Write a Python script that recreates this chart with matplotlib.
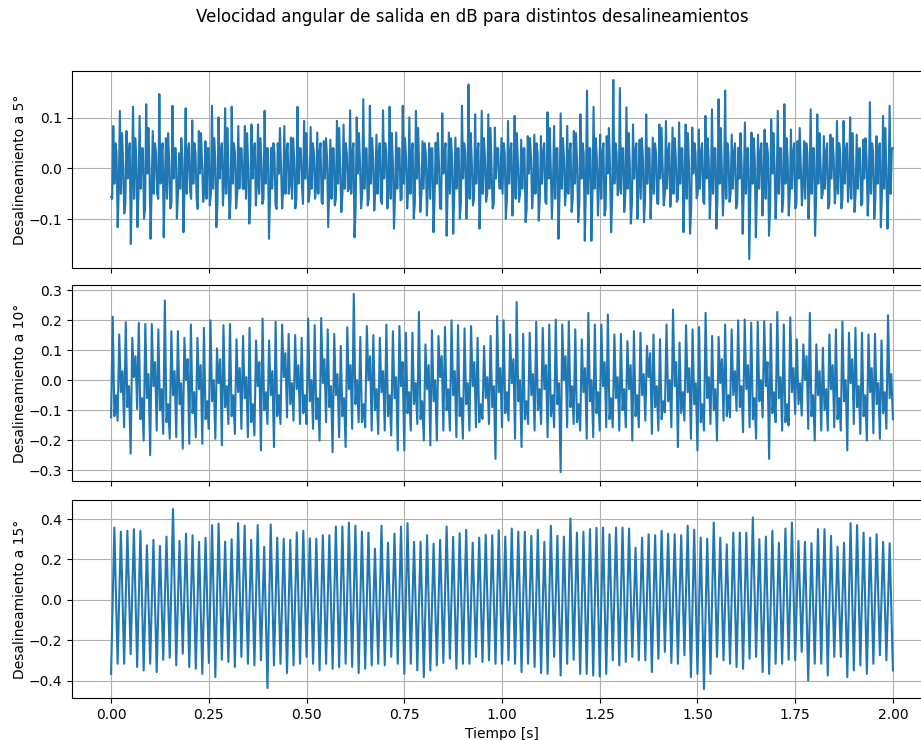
import numpy as np
import matplotlib
matplotlib.use("Agg")
import matplotlib.pyplot as plt

# ---------------------------------------------------------------------------
# Output angular velocity [dB] for three misalignment angles, 0 - 2 s.
# Each record is stored as its successive extremes per 60 Hz cycle.
# ---------------------------------------------------------------------------

t_start, t_end = 0.0, 2.0

# --- 5 deg misalignment: downward spike, upward spike, inner wiggles -------
des5_low = [
    -0.056, -0.116, -0.089, -0.149, -0.116, -0.099, -0.139, -0.05, -0.136, -0.079,
    -0.099, -0.126, -0.043, -0.06, -0.066, -0.073, -0.116, -0.073, -0.099, -0.079,
    -0.04, -0.109, -0.073, -0.07, -0.139, -0.073, -0.079, -0.05, -0.079, -0.033,
    -0.066, -0.06, -0.066, -0.116, -0.073, -0.086, -0.045, -0.136, -0.079, -0.073,
    -0.083,
    -0.063, -0.079, -0.119, -0.063, -0.079, -0.099, -0.086, -0.093, -0.126, -0.079,
    -0.133, -0.129, -0.099, -0.099, -0.073, -0.119, -0.066, -0.079, -0.039, -0.099,
    -0.093, -0.066, -0.106, -0.079, -0.103, -0.066, -0.099, -0.139, -0.073, -0.086,
    -0.106, -0.143, -0.143, -0.093, -0.093, -0.126, -0.053, -0.086, -0.109, -0.099,
    -0.106, -0.099, -0.069, -0.073, -0.076, -0.066, -0.126, -0.129, -0.059, -0.066,
    -0.099, -0.119, -0.093, -0.066, -0.079, -0.129, -0.179, -0.136, -0.093, -0.133,
    -0.099, -0.086, -0.093, -0.079, -0.073, -0.099, -0.133, -0.059, -0.079, -0.069,
    -0.079, -0.066, -0.086, -0.073, -0.093, -0.099, -0.116, -0.119,
]
des5_high = [
    0.084, 0.114, 0.074, 0.122, 0.104, 0.127, 0.074, 0.147, 0.06, 0.124,
    0.030, 0.119, 0.095, 0.074, 0.054, 0.124, 0.101, 0.119, 0.122, 0.084,
    0.084, 0.087, 0.087, 0.114, 0.041, 0.05, 0.084, 0.061, 0.122, 0.094,
    0.082, 0.071, 0.054, 0.057, 0.094, 0.087, 0.115, 0.101, 0.137, 0.124,
    0.067,
    0.115, 0.122, 0.071, 0.124, 0.101, 0.114, 0.054, 0.05, 0.051, 0.109,
    0.071, 0.061, 0.124, 0.166, 0.107, 0.114, 0.107, 0.081, 0.06, 0.094,
    0.104, 0.057, 0.064, 0.067, 0.064, 0.111, 0.084, 0.109, 0.084, 0.074,
    0.107, 0.154, 0.122, 0.067, 0.064, 0.175, 0.159, 0.121, 0.087, 0.057,
    0.107, 0.061, 0.087, 0.094, 0.081, 0.091, 0.087, 0.081, 0.077, 0.104,
    0.117, 0.137, 0.154, 0.067, 0.041, 0.091, 0.071, 0.067, 0.077, 0.097,
    0.114, 0.127, 0.077, 0.054, 0.054, 0.117, 0.107, 0.064, 0.067, 0.094,
    0.094, 0.101, 0.067, 0.057, 0.131, 0.064, 0.104, 0.124,
]
des5_dip = [
    -0.03, -0.05, -0.02, -0.06, -0.04, -0.01, -0.05, -0.03, -0.06, -0.02,
    -0.04, -0.05, -0.03, -0.01, -0.06, -0.04, -0.02, -0.05, -0.03, -0.04,
    -0.06, -0.02, -0.05, -0.03, -0.04, -0.01, -0.05, -0.06, -0.03, -0.02,
    -0.04, -0.05, -0.02, -0.06, -0.03, -0.04, -0.05, -0.01, -0.04, -0.03,
    -0.05, -0.02, -0.06, -0.04, -0.03, -0.05, -0.02, -0.04, -0.06, -0.03,
    -0.01, -0.05, -0.04, -0.02, -0.06, -0.03, -0.05, -0.04, -0.02, -0.05,
    -0.03, -0.06, -0.04, -0.01, -0.05, -0.03, -0.02, -0.06, -0.04, -0.05,
    -0.03, -0.02, -0.05, -0.04, -0.06, -0.01, -0.03, -0.05, -0.04, -0.02,
    -0.06, -0.03, -0.05, -0.02, -0.04, -0.05, -0.03, -0.06, -0.01, -0.04,
    -0.02, -0.05, -0.03, -0.06, -0.04, -0.02, -0.05, -0.03, -0.04, -0.06,
    -0.01, -0.05, -0.03, -0.04, -0.02, -0.06, -0.05, -0.03, -0.04, -0.02,
    -0.05, -0.03, -0.06, -0.04, -0.02, -0.05, -0.03, -0.04, -0.05,
]
des5_bump = [
    0.03, 0.01, 0.05, 0.02, 0.04, 0.00, 0.03, 0.05, 0.01, 0.04,
    0.02, 0.05, 0.03, 0.01, 0.04, 0.02, 0.05, 0.00, 0.03, 0.04,
    0.01, 0.05, 0.02, 0.04, 0.03, 0.00, 0.05, 0.02, 0.04, 0.01,
    0.03, 0.05, 0.02, 0.04, 0.00, 0.03, 0.05, 0.01, 0.04, 0.02,
    0.05, 0.03, 0.01, 0.04, 0.02, 0.05, 0.00, 0.03, 0.04, 0.01,
    0.05, 0.02, 0.04, 0.03, 0.01, 0.05, 0.02, 0.00, 0.04, 0.03,
    0.05, 0.01, 0.04, 0.02, 0.03, 0.05, 0.00, 0.04, 0.02, 0.05,
    0.01, 0.03, 0.04, 0.02, 0.05, 0.00, 0.03, 0.04, 0.01, 0.05,
    0.02, 0.04, 0.03, 0.00, 0.05, 0.02, 0.04, 0.01, 0.03, 0.05,
    0.02, 0.04, 0.00, 0.03, 0.05, 0.01, 0.04, 0.02, 0.05, 0.03,
    0.01, 0.04, 0.02, 0.05, 0.00, 0.03, 0.04, 0.01, 0.05, 0.02,
    0.03, 0.05, 0.01, 0.04, 0.02, 0.03, 0.05, 0.00, 0.04,
]
des5_dip2 = [
    -0.06, -0.04, -0.07, -0.03, -0.05, -0.08, -0.04, -0.06, -0.03, -0.07,
    -0.05, -0.03, -0.06, -0.08, -0.04, -0.05, -0.07, -0.03, -0.06, -0.05,
    -0.04, -0.07, -0.03, -0.06, -0.05, -0.08, -0.04, -0.03, -0.06, -0.07,
    -0.05, -0.04, -0.07, -0.03, -0.06, -0.05, -0.04, -0.08, -0.05, -0.06,
    -0.04, -0.07, -0.03, -0.05, -0.06, -0.04, -0.07, -0.05, -0.03, -0.06,
    -0.08, -0.04, -0.05, -0.07, -0.03, -0.06, -0.04, -0.05, -0.07, -0.04,
    -0.06, -0.03, -0.05, -0.08, -0.04, -0.06, -0.07, -0.03, -0.05, -0.04,
    -0.06, -0.07, -0.04, -0.05, -0.03, -0.08, -0.06, -0.04, -0.05, -0.07,
    -0.03, -0.06, -0.04, -0.07, -0.05, -0.04, -0.06, -0.03, -0.08, -0.05,
    -0.07, -0.04, -0.06, -0.03, -0.05, -0.07, -0.04, -0.06, -0.05, -0.03,
    -0.08, -0.04, -0.06, -0.05, -0.07, -0.03, -0.04, -0.06, -0.05, -0.07,
    -0.04, -0.06, -0.03, -0.05, -0.07, -0.04, -0.06, -0.05, -0.04,
]
des5_bump2 = [
    0.05, 0.07, 0.03, 0.06, 0.04, 0.08, 0.05, 0.03, 0.07, 0.04,
    0.06, 0.03, 0.05, 0.07, 0.04, 0.06, 0.03, 0.08, 0.05, 0.04,
    0.07, 0.03, 0.06, 0.04, 0.05, 0.08, 0.03, 0.06, 0.04, 0.07,
    0.05, 0.03, 0.06, 0.04, 0.08, 0.05, 0.03, 0.07, 0.04, 0.06,
    0.03, 0.05, 0.07, 0.04, 0.06, 0.03, 0.08, 0.05, 0.04, 0.07,
    0.03, 0.06, 0.04, 0.05, 0.07, 0.03, 0.06, 0.08, 0.04, 0.05,
    0.03, 0.07, 0.04, 0.06, 0.05, 0.03, 0.08, 0.04, 0.06, 0.03,
    0.07, 0.05, 0.04, 0.06, 0.03, 0.08, 0.05, 0.04, 0.07, 0.03,
    0.06, 0.04, 0.05, 0.08, 0.03, 0.06, 0.04, 0.07, 0.05, 0.03,
    0.06, 0.04, 0.08, 0.05, 0.03, 0.07, 0.04, 0.06, 0.03, 0.05,
    0.07, 0.04, 0.06, 0.03, 0.08, 0.05, 0.04, 0.07, 0.03, 0.06,
    0.05, 0.03, 0.07, 0.04, 0.06, 0.05, 0.03, 0.08, 0.04,
]

# --- 10 deg misalignment: trough, peak, falling-edge dip and rebound ------
des10_trough = [
    -0.124, -0.135, -0.157, -0.245, -0.096, -0.201, -0.250, -0.168, -0.179, -0.195,
    -0.190, -0.228, -0.212, -0.190, -0.212, -0.162, -0.195, -0.217, -0.146, -0.179,
    -0.162, -0.190, -0.184, -0.234, -0.146, -0.223, -0.146, -0.124, -0.135, -0.146,
    -0.146, -0.162, -0.201, -0.140, -0.240, -0.190, -0.223, -0.162, -0.140, -0.157,
    -0.168,
    -0.179, -0.168, -0.184, -0.234, -0.234, -0.168, -0.146, -0.201, -0.217, -0.201,
    -0.168, -0.168, -0.190, -0.195, -0.168, -0.157, -0.129, -0.146, -0.262, -0.157,
    -0.135, -0.195, -0.223, -0.146, -0.168, -0.146, -0.190, -0.157, -0.306, -0.157,
    -0.146, -0.168, -0.195, -0.190, -0.168, -0.157, -0.157, -0.168, -0.157, -0.201,
    -0.157, -0.135,
    -0.179, -0.168, -0.107, -0.157, -0.223, -0.135, -0.195, -0.234, -0.168, -0.146,
    -0.201, -0.135, -0.124, -0.102, -0.173, -0.157, -0.195, -0.124, -0.262, -0.140,
    -0.168, -0.151, -0.113, -0.118, -0.162, -0.201, -0.168, -0.168, -0.157, -0.168,
    -0.234, -0.146, -0.179, -0.201, -0.177, -0.195, -0.162, -0.130,
]
des10_peak = [
    0.211, 0.152, 0.193, 0.141, 0.191, 0.187, 0.187, 0.169, 0.265, 0.163,
    0.163, 0.141, 0.185, 0.141, 0.174, 0.199, 0.106, 0.183, 0.187, 0.136,
    0.147, 0.174, 0.132, 0.205, 0.132, 0.194, 0.185, 0.154, 0.150, 0.141,
    0.205, 0.183, 0.207, 0.169, 0.154, 0.114, 0.176, 0.287, 0.144, 0.180,
    0.150,
    0.141, 0.185, 0.163, 0.180, 0.158, 0.158, 0.227, 0.119, 0.166, 0.147,
    0.177, 0.199, 0.183, 0.172, 0.180, 0.141, 0.114, 0.147, 0.213, 0.199,
    0.152, 0.260, 0.154, 0.158, 0.194, 0.174, 0.185, 0.202, 0.185, 0.196,
    0.169, 0.136, 0.224, 0.185, 0.185, 0.218, 0.152, 0.154, 0.130, 0.163,
    0.158, 0.114,
    0.152, 0.136, 0.185, 0.235, 0.125, 0.183, 0.169, 0.177, 0.224, 0.147,
    0.144, 0.185, 0.169, 0.199, 0.202, 0.191, 0.194, 0.196, 0.187, 0.227,
    0.185, 0.209, 0.136, 0.119, 0.224, 0.119, 0.108, 0.152, 0.169, 0.196,
    0.158, 0.174, 0.158, 0.152, 0.154, 0.132, 0.216,
]
des10_dip = [
    -0.12, -0.04, -0.09, 0.01, -0.13, -0.06, -0.02, -0.10, -0.14, -0.05,
    -0.08, 0.00, -0.11, -0.03, -0.13, -0.07, -0.01, -0.09, -0.12, -0.04,
    -0.06, -0.14, -0.02, -0.10, -0.05, -0.12, 0.01, -0.08, -0.03, -0.11,
    -0.07, -0.13, -0.01, -0.09, -0.05, -0.12, -0.03, -0.08, -0.14, 0.00,
    -0.10, -0.04, -0.12, -0.06, -0.02, -0.11, -0.08, -0.13, -0.03, -0.07,
    0.01, -0.10, -0.05, -0.12, -0.08, -0.02, -0.14, -0.06, -0.09, -0.04,
    -0.11, -0.01, -0.07, -0.13, -0.05, -0.10, -0.03, -0.12, -0.08, 0.00,
    -0.09, -0.14, -0.04, -0.07, -0.11, -0.02, -0.13, -0.06, -0.10, -0.03,
    -0.12, -0.05, 0.01, -0.09, -0.13, -0.07, -0.02, -0.11, -0.04, -0.08,
    -0.14, -0.06, -0.10, -0.01, -0.12, -0.05, -0.09, -0.03, -0.13, -0.07,
    -0.02, -0.11, -0.06, -0.14, -0.04, -0.08, 0.00, -0.12, -0.05, -0.10,
    -0.03, -0.13, -0.07, -0.01, -0.09, -0.12, -0.04, -0.08, -0.11, -0.06,
]
des10_bump = [
    -0.05, 0.03, -0.02, 0.08, -0.06, 0.02, 0.06, -0.03, -0.08, 0.03,
    -0.01, 0.07, -0.04, 0.05, -0.07, 0.00, 0.07, -0.02, -0.05, 0.04,
    0.01, -0.08, 0.06, -0.04, 0.03, -0.05, 0.09, -0.01, 0.05, -0.05,
    0.00, -0.06, 0.07, -0.02, 0.02, -0.06, 0.05, 0.00, -0.08, 0.08,
    -0.03, 0.03, -0.05, 0.01, 0.06, -0.04, -0.01, -0.07, 0.05, 0.00,
    0.08, -0.03, 0.03, -0.06, -0.01, 0.06, -0.08, 0.01, -0.02, 0.04,
    -0.04, 0.07, 0.00, -0.07, 0.02, -0.03, 0.05, -0.05, -0.01, 0.08,
    -0.02, -0.08, 0.04, 0.00, -0.04, 0.06, -0.06, 0.01, -0.03, 0.05,
    -0.05, 0.02, 0.09, -0.02, -0.07, 0.00, 0.06, -0.04, 0.04, -0.01,
    -0.08, 0.01, -0.03, 0.07, -0.05, 0.03, -0.02, 0.05, -0.06, 0.00,
    0.06, -0.04, 0.01, -0.08, 0.04, -0.01, 0.08, -0.05, 0.03, -0.03,
    0.05, -0.06, 0.00, 0.07, -0.02, -0.05, 0.04, -0.01, -0.04, 0.02,
]

# --- 15 deg misalignment: trough, peak ------------------------------------
des15_trough = [
    -0.367, -0.317, -0.317, -0.270, -0.333, -0.350, -0.317, -0.358, -0.297, -0.287,
    -0.325, -0.267, -0.333, -0.342, -0.367, -0.313, -0.383, -0.297, -0.308, -0.333,
    -0.283, -0.317, -0.325, -0.300, -0.437, -0.325, -0.317, -0.363, -0.325, -0.317,
    -0.283, -0.317, -0.350, -0.317, -0.342, -0.333, -0.317, -0.333, -0.363, -0.342,
    -0.325,
    -0.317, -0.325, -0.283, -0.317, -0.367, -0.317, -0.350, -0.383, -0.350, -0.325,
    -0.313, -0.292, -0.342, -0.317, -0.317, -0.283, -0.308, -0.300, -0.317, -0.317,
    -0.300, -0.317, -0.358, -0.317, -0.333, -0.363, -0.367, -0.283, -0.375, -0.317,
    -0.297, -0.367, -0.367, -0.375, -0.380, -0.367, -0.300, -0.325, -0.308, -0.283,
    -0.300, -0.300,
    -0.358, -0.292, -0.258, -0.313, -0.317, -0.275, -0.383, -0.367, -0.442, -0.367,
    -0.283, -0.300, -0.317, -0.333, -0.342, -0.292, -0.283, -0.358, -0.367, -0.317,
    -0.317, -0.297, -0.300, -0.258, -0.400, -0.317, -0.317, -0.375, -0.283, -0.283,
    -0.383, -0.350, -0.325, -0.367, -0.317, -0.275, -0.300, -0.350,
]
des15_peak = [
    0.358, 0.338, 0.342, 0.350, 0.342, 0.270, 0.297, 0.267, 0.313, 0.450,
    0.292, 0.328, 0.320, 0.287, 0.308, 0.370, 0.378, 0.288, 0.300, 0.380,
    0.367, 0.297, 0.370, 0.262, 0.373, 0.308, 0.303, 0.297, 0.333, 0.342,
    0.305, 0.303, 0.320, 0.320, 0.363, 0.363, 0.383, 0.367, 0.338, 0.333,
    0.253,
    0.367, 0.283, 0.328, 0.363, 0.380, 0.287, 0.288, 0.320, 0.278, 0.297,
    0.363, 0.312, 0.330, 0.347, 0.283, 0.308, 0.322, 0.320, 0.345, 0.313,
    0.353, 0.338, 0.337, 0.317, 0.347, 0.287, 0.367, 0.317, 0.313, 0.403,
    0.333, 0.337, 0.350, 0.357, 0.358, 0.325, 0.358, 0.358, 0.353, 0.258,
    0.308, 0.325,
    0.320, 0.342, 0.328, 0.325, 0.320, 0.367, 0.347, 0.308, 0.303, 0.383,
    0.308, 0.275, 0.333, 0.333, 0.333, 0.408, 0.300, 0.313, 0.342, 0.283,
    0.353, 0.383, 0.292, 0.287, 0.280, 0.350, 0.350, 0.317, 0.263, 0.283,
    0.380, 0.370, 0.333, 0.308, 0.325, 0.287, 0.280,
]

title = "Velocidad angular de salida en dB para distintos desalineamientos"
ylabels = ["Desalineamiento a 5°", "Desalineamiento a 10°", "Desalineamiento a 15°"]
xlabel = "Tiempo [s]"


def build(columns, tail=None):
    """Interleave the per-cycle extremes into one continuous record."""
    seq = np.column_stack([np.asarray(c, dtype=float) for c in columns]).ravel()
    if tail is not None:
        seq = np.append(seq, tail)
    return seq


sig5 = build([des5_low, des5_dip2, des5_high, des5_dip, des5_bump2, des5_bump])
sig10 = build([des10_trough[:-1], des10_peak, des10_dip, des10_bump], des10_trough[-1])
sig15 = build([des15_trough[:-1], des15_peak], des15_trough[-1])
signals = [sig5, sig10, sig15]

W, H = 921, 740
fig = plt.figure(figsize=(W / 100, H / 100), dpi=100)

left_px, right_px = 72, 932
panels_px = [(71, 268), (285, 481), (500, 698)]

axes = []
for i, (top, bot) in enumerate(panels_px):
    rect = [left_px / W, 1 - bot / H, (right_px - left_px) / W, (bot - top) / H]
    ax = fig.add_axes(rect, sharex=axes[0] if axes else None)
    sig = signals[i]
    t = np.linspace(t_start, t_end, len(sig))
    ax.plot(t, sig, color="#1f77b4", linewidth=1.5)
    ax.grid(True)
    ax.set_ylabel(ylabels[i], labelpad=1.5)
    if i < 2:
        ax.tick_params(labelbottom=False)
    axes.append(ax)

axes[-1].set_xlabel(xlabel)
axes[-1].set_xticks([0.0, 0.25, 0.5, 0.75, 1.0, 1.25, 1.5, 1.75, 2.0])
fig.align_ylabels(axes)
fig.suptitle(title, x=472 / W, y=1 - 17 / H, fontsize=12, va="center")

fig.savefig("out.png", dpi=100)
